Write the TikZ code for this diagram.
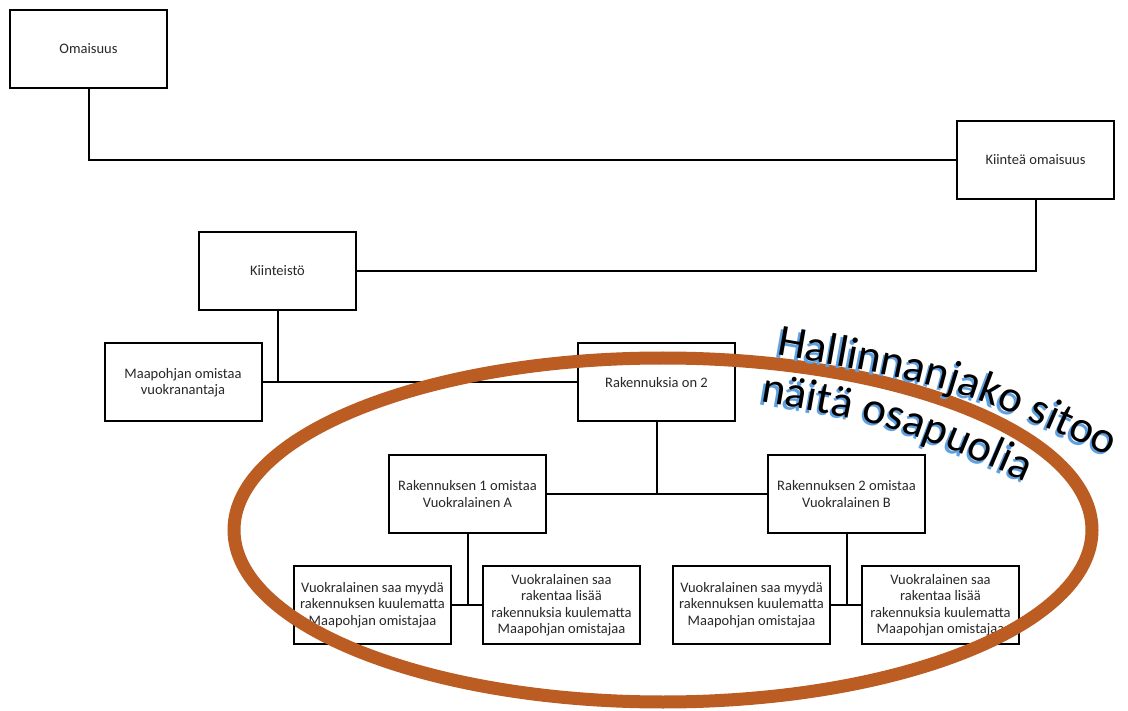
\documentclass[tikz,border=0pt]{standalone}
\usepackage{fontspec}
\setmainfont{Carlito}
\newfontfamily\artfont{Carlito}
\usetikzlibrary{decorations.text}
\definecolor{ringbrown}{RGB}{187,92,34}
\definecolor{glowblue}{RGB}{95,160,225}
\definecolor{boxtext}{RGB}{40,40,40}
\begin{document}
\begin{tikzpicture}[x=1pt,y=-1pt,
  card/.style={draw=black, line width=2pt, fill=white, minimum width=157pt,
    minimum height=78pt, inner sep=0pt, align=center, text=boxtext,
    font=\fontsize{14.5}{16.5}\selectfont},
  wire/.style={draw=black, line width=2pt},
  ring/.style={draw=ringbrown, line width=13pt},
  banner/.style={decorate, decoration={text along path, text align=left, text={#1}}}]
\useasboundingbox (0,0) rectangle (1128,711);
\fill[white] (0,0) rectangle (1128,711);

% boxes
\node[card] (oma)  at (88.5,49)    {Omaisuus};
\node[card] (kom)  at (1035.5,160) {Kiinteä omaisuus};
\node[card] (kst)  at (277.5,271)  {Kiinteistö};
\node[card] (maa)  at (183,382.5)  {Maapohjan omistaa\\vuokranantaja};
\node[card] (rak)  at (656.5,382.5){Rakennuksia on 2};
\node[card] (ra)   at (467.5,494)  {Rakennuksen 1 omistaa\\Vuokralainen A};
\node[card] (rb)   at (846.5,494)  {Rakennuksen 2 omistaa\\Vuokralainen B};
\node[card] (a1)   at (372.5,605)  {Vuokralainen saa myydä\\rakennuksen kuulematta\\Maapohjan omistajaa};
\node[card] (a2)   at (561.5,605)  {Vuokralainen saa\\rakentaa lisää\\rakennuksia kuulematta\\Maapohjan omistajaa};
\node[card] (b1)   at (751.5,605)  {Vuokralainen saa myydä\\rakennuksen kuulematta\\Maapohjan omistajaa};
\node[card] (b2)   at (940.5,605)  {Vuokralainen saa\\rakentaa lisää\\rakennuksia kuulematta\\Maapohjan omistajaa};

% connectors
\draw[wire] (oma.south) |- (kom.west);
\draw[wire] (kom.south) |- (kst.east);
\draw[wire] (kst.south) -- (kst.south |- maa.east);
\draw[wire] (maa.east) -- (rak.west);
\draw[wire] (rak.south) -- (rak.south |- ra.east);
\draw[wire] (ra.east) -- (rb.west);
\draw[wire] (ra.south) -- (ra.south |- a1.east);
\draw[wire] (a1.east) -- (a2.west);
\draw[wire] (rb.south) -- (rb.south |- b1.east);
\draw[wire] (b1.east) -- (b2.west);

% ring around the parties
\draw[ring] (663,530) ellipse [x radius=429, y radius=172];

% curved banner text with a blue shadow
\path[banner={|\artfont\fontsize{45}{45}\selectfont\color{glowblue}|Hallinnanjako sitoo}]
  (773.5,357.5) .. controls (952.5,388.5) .. (1137.5,472.5);
\path[banner={|\artfont\fontsize{45}{45}\selectfont\color{black}|Hallinnanjako sitoo}]
  (776,355) .. controls (955,386) .. (1140,470);
\path[banner={|\artfont\fontsize{45}{45}\selectfont\color{glowblue}|näitä osapuolia}]
  (757.5,404.5) .. controls (892.5,427.5) .. (1042.5,492.5);
\path[banner={|\artfont\fontsize{45}{45}\selectfont\color{black}|näitä osapuolia}]
  (760,402) .. controls (895,425) .. (1045,490);
\end{tikzpicture}
\end{document}
